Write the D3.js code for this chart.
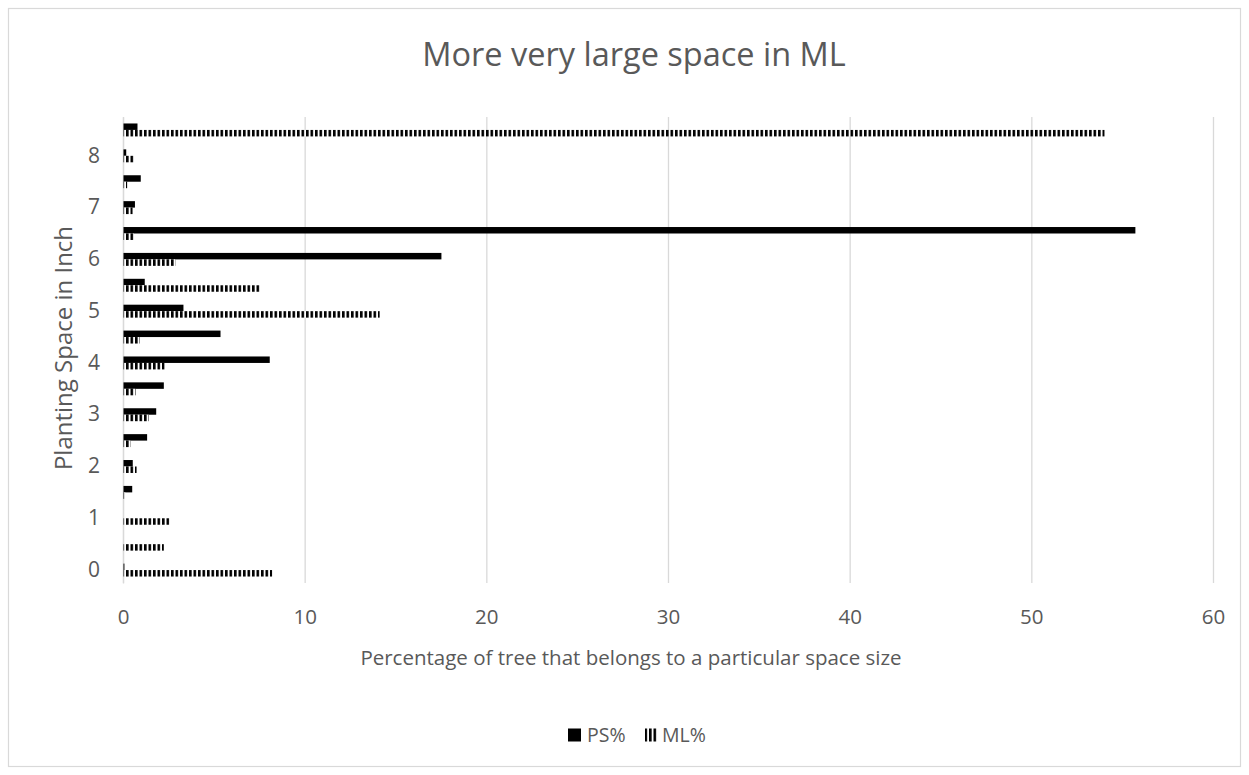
<!DOCTYPE html>
<html>
<head>
<meta charset="utf-8">
<script src="https://cdn.jsdelivr.net/npm/d3@7"></script>
<style>
  html, body { margin: 0; padding: 0; background: #fff; }
  svg { display: block; font-family: "Open Sans", sans-serif; }
</style>
</head>
<body>
<svg id="chart" width="1249" height="775"></svg>
<script>
// Planting space categories (inches), bottom to top
const categories = ["0","0.5","1","1.5","2","2.5","3","3.5","4","4.5","5","5.5","6","6.5","7","7.5","8","8.5"];
// Percentage of trees per space size
const psValues = [0.05, 0, 0, 0.48, 0.51, 1.3, 1.8, 2.22, 8.05, 5.34, 3.3, 1.17, 17.5, 55.7, 0.63, 0.95, 0.15, 0.77];
const mlValues = [8.18, 2.22, 2.53, 0.1, 0.72, 0.39, 1.4, 0.66, 2.26, 0.9, 14.1, 7.54, 2.86, 0.57, 0.5, 0.2, 0.6, 54.0];
const seriesNames = ["PS%", "ML%"];
const xTicks = [0, 10, 20, 30, 40, 50, 60];
const yLabelValues = ["0","1","2","3","4","5","6","7","8"];

const rows = categories.map((c, i) => ({ cat: c, "PS%": psValues[i], "ML%": mlValues[i] }));

const svg = d3.select("#chart");
const W = 1249, H = 775;
const plot = { left: 123, right: 1213, top: 117, bottom: 583 };
const textColor = "#595959";
const gridColor = "#d9d9d9";

// outer frame
svg.append("rect")
  .attr("x", 8.5).attr("y", 8.5)
  .attr("width", W - 17).attr("height", H - 17)
  .attr("fill", "#fff").attr("stroke", gridColor).attr("stroke-width", 1.2);

// vertical stripe fill for ML%
const defs = svg.append("defs");
const pat = defs.append("pattern")
  .attr("id", "stripes").attr("patternUnits", "userSpaceOnUse")
  .attr("width", 4.5).attr("height", 10);
pat.append("rect").attr("width", 4.5).attr("height", 10).attr("fill", "#fff");
pat.append("rect").attr("width", 2.6).attr("height", 10).attr("fill", "#000");

const x = d3.scaleLinear().domain([0, 60]).range([plot.left, plot.right]);
const y = d3.scaleBand()
  .domain(categories.slice().reverse())
  .range([plot.top, plot.bottom])
  .paddingInner(0.5).paddingOuter(0.25);
const ySub = d3.scaleBand().domain(seriesNames).range([0, y.bandwidth()]);

// gridlines
const gridG = svg.append("g")
  .attr("transform", `translate(0,${plot.bottom})`)
  .call(d3.axisBottom(x).tickValues(xTicks).tickSize(-(plot.bottom - plot.top)).tickFormat(""));
gridG.select(".domain").remove();
gridG.selectAll(".tick line").attr("stroke", gridColor).attr("stroke-width", 1.3);

// x tick labels
const xAxisG = svg.append("g")
  .attr("transform", `translate(0,${plot.bottom})`)
  .call(d3.axisBottom(x).tickValues(xTicks).tickSize(0).tickPadding(26));
xAxisG.select(".domain").remove();
xAxisG.selectAll("text")
  .attr("fill", textColor).style("font-size", "20.5px").style("font-family", "'Open Sans', sans-serif");

// y axis
const yAxisG = svg.append("g")
  .attr("transform", `translate(${plot.left},0)`)
  .call(d3.axisLeft(y).tickSize(0).tickPadding(23)
    .tickFormat(d => yLabelValues.includes(d) ? d : ""));
yAxisG.select(".domain").attr("stroke", gridColor).attr("stroke-width", 1.3);
yAxisG.selectAll("text")
  .attr("fill", textColor).style("font-size", "21px").style("font-family", "'Open Sans', sans-serif");

// bars
const groups = svg.append("g").selectAll("g")
  .data(rows).join("g")
  .attr("transform", d => `translate(0,${y(d.cat)})`);

groups.selectAll("rect")
  .data(d => seriesNames.map(k => ({ key: k, value: d[k] })))
  .join("rect")
  .attr("x", x(0) + 0.5)
  .attr("y", d => ySub(d.key))
  .attr("height", ySub.bandwidth())
  .attr("width", d => Math.max(0, x(d.value) - x(0)))
  .attr("fill", d => d.key === "PS%" ? "#000" : "url(#stripes)");

// title
svg.append("text")
  .attr("x", 634).attr("y", 66)
  .attr("text-anchor", "middle")
  .attr("fill", textColor)
  .style("font-size", "32.5px")
  .text("More very large space in ML");

// axis titles
svg.append("text")
  .attr("x", 631).attr("y", 665)
  .attr("text-anchor", "middle")
  .attr("fill", textColor)
  .style("font-size", "20.5px")
  .text("Percentage of tree that belongs to a particular space size");

svg.append("text")
  .attr("transform", `translate(72,348) rotate(-90)`)
  .attr("text-anchor", "middle")
  .attr("fill", textColor)
  .style("font-size", "24px")
  .text("Planting Space in Inch");

// legend
const legend = svg.append("g").attr("transform", "translate(568,735)");
const legItems = [
  { name: "PS%", fill: "#000", dx: 0, tx: 19 },
  { name: "ML%", fill: "url(#stripes)", dx: 77, tx: 94 }
];
legItems.forEach(it => {
  legend.append("rect")
    .attr("x", it.dx).attr("y", -6.5)
    .attr("width", 13).attr("height", 13)
    .attr("fill", it.fill);
  legend.append("text")
    .attr("x", it.tx).attr("y", 0).attr("dy", "0.35em")
    .attr("fill", textColor)
    .style("font-size", "19.5px")
    .text(it.name);
});
</script>
</body>
</html>
